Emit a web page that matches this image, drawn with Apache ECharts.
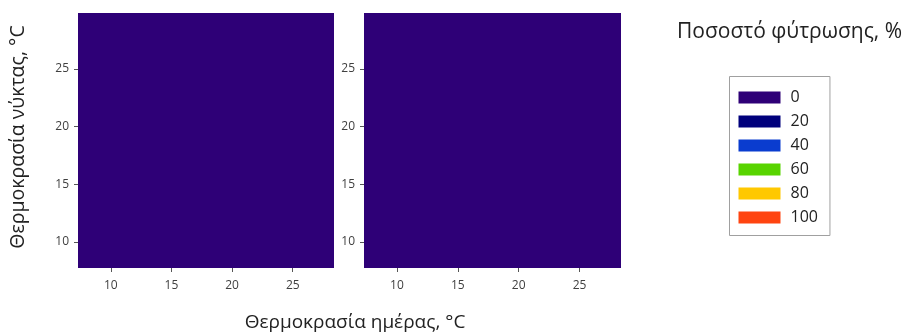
<!DOCTYPE html>
<html>
<head>
<meta charset="utf-8">
<script src="https://cdn.jsdelivr.net/npm/echarts@6/dist/echarts.min.js"></script>
<style>
html,body{margin:0;padding:0;background:#fff;}
#c{width:907px;height:334px;}
</style>
</head>
<body>
<div id="c"></div>
<script>
// ---- data ----
const dayTemps = [8, 10, 12, 14, 16, 18, 20, 22, 24, 26, 28];          // cell centres, °C (2° wide)
const nightTemps = [8, 10, 12, 14, 16, 18, 20, 22, 24, 26, 28, 30];    // cell centres, °C (2° wide)
const cellSize = 2;
const xTicks = [10, 15, 20, 25];
const yTicks = [10, 15, 20, 25];
const legendLevels = [0, 20, 40, 60, 80, 100];
const legendLabels = ['0', '20', '40', '60', '80', '100'];
// germination % per (night row, day column)
const germA = [
  [0,0,0,0,0,0,0,0,0,0,0],
  [0,0,0,0,0,0,0,0,0,0,0],
  [0,0,0,0,0,0,0,0,0,0,0],
  [0,0,0,0,0,0,0,0,0,0,0],
  [0,0,0,0,0,0,0,0,0,0,0],
  [0,0,0,0,0,0,0,0,0,0,0],
  [0,0,0,0,0,0,0,0,0,0,0],
  [0,0,0,0,0,0,0,0,0,0,0],
  [0,0,0,0,0,0,0,0,0,0,0],
  [0,0,0,0,0,0,0,0,0,0,0],
  [0,0,0,0,0,0,0,0,0,0,0],
  [0,0,0,0,0,0,0,0,0,0,0]
];
const germB = [
  [0,0,0,0,0,0,0,0,0,0,0],
  [0,0,0,0,0,0,0,0,0,0,0],
  [0,0,0,0,0,0,0,0,0,0,0],
  [0,0,0,0,0,0,0,0,0,0,0],
  [0,0,0,0,0,0,0,0,0,0,0],
  [0,0,0,0,0,0,0,0,0,0,0],
  [0,0,0,0,0,0,0,0,0,0,0],
  [0,0,0,0,0,0,0,0,0,0,0],
  [0,0,0,0,0,0,0,0,0,0,0],
  [0,0,0,0,0,0,0,0,0,0,0],
  [0,0,0,0,0,0,0,0,0,0,0],
  [0,0,0,0,0,0,0,0,0,0,0]
];
const panelLabels = ['A', 'B'];
const titleText = 'Ποσοστό φύτρωσης, %';
const xName = 'Θερμοκρασία ημέρας, °C';
const yName = 'Θερμοκρασία νύκτας, °C';

// ---- styles ----
const levelColors = ['#2e0077', '#00007c', '#0a3ccf', '#58d400', '#ffc800', '#ff4410'];
const FONT = 'Open Sans';

function toCells(mat) {
  const out = [];
  nightTemps.forEach((ny, r) => {
    dayTemps.forEach((dx, c) => { out.push([dx, ny, mat[r][c]]); });
  });
  return out;
}

function renderCell(params, api) {
  const x = api.value(0), y = api.value(1), h = cellSize / 2;
  const p0 = api.coord([x - h, y + h]);
  const p1 = api.coord([x + h, y - h]);
  const cs = params.coordSys;
  const rect = echarts.graphic.clipRectByRect({
    x: p0[0], y: p0[1], width: p1[0] - p0[0], height: p1[1] - p0[1]
  }, { x: cs.x, y: cs.y, width: cs.width, height: cs.height });
  if (!rect) return null;
  // snap to whole pixels so neighbouring cells meet without seams
  const x0 = Math.round(rect.x), y0 = Math.round(rect.y);
  const x1 = Math.round(rect.x + rect.width), y1 = Math.round(rect.y + rect.height);
  return {
    type: 'rect',
    shape: { x: x0, y: y0, width: x1 - x0, height: y1 - y0 },
    style: { fill: api.visual('color') }
  };
}

const grids = [
  { left: 78, top: 13, width: 256, height: 255 },
  { left: 364, top: 13, width: 257, height: 255 }
];

function xAxisFor(i) {
  return {
    type: 'value', gridIndex: i, min: 7.3, max: 28.4,
    interval: 5,
    axisLine: { show: false },
    axisTick: { show: true, length: 4, lineStyle: { color: '#555' },
      customValues: xTicks },
    axisLabel: { color: '#404040', fontSize: 12, fontFamily: FONT, margin: 12,
      customValues: xTicks },
    splitLine: { show: false }
  };
}
function yAxisFor(i) {
  return {
    type: 'value', gridIndex: i, min: 7.75, max: 29.85,
    axisLine: { show: false },
    axisTick: { show: true, length: 4, lineStyle: { color: '#555' },
      customValues: yTicks },
    axisLabel: { color: '#404040', fontSize: 12, fontFamily: FONT, margin: 9,
      customValues: yTicks },
    splitLine: { show: false }
  };
}

const chart = echarts.init(document.getElementById('c'), null, { renderer: 'canvas' });
chart.setOption({
  backgroundColor: '#fff',
  animation: false,
  grid: grids,
  xAxis: [xAxisFor(0), xAxisFor(1)],
  yAxis: [yAxisFor(0), yAxisFor(1)],
  visualMap: {
    type: 'piecewise',
    dimension: 2,
    seriesIndex: [0, 1],
    orient: 'vertical',
    inverse: true,
    align: 'left',
    left: 729, top: 76,
    padding: [13, 12, 10, 9],
    borderColor: '#a0a0a0', borderWidth: 1,
    itemWidth: 42, itemHeight: 12, itemGap: 8, itemSymbol: 'rect',
    textGap: 10,
    selectedMode: false,
    textStyle: { color: '#222', fontSize: 16, fontFamily: FONT },
    pieces: legendLevels.map((v, i) => ({ value: v, label: legendLabels[i], color: levelColors[i] }))
  },
  title: [
    { text: titleText, left: 672, top: 17,
      textStyle: { fontFamily: FONT, fontSize: 21, fontWeight: 'normal', color: '#222' } }
  ],
  graphic: [
    { type: 'text', x: 355, y: 323,
      style: { text: xName, font: '19px "Open Sans"', fill: '#222', align: 'center', verticalAlign: 'middle' } },
    { type: 'text', x: 18, y: 137, rotation: Math.PI / 2,
      style: { text: yName, font: '19.5px "Open Sans"', fill: '#222', align: 'center', verticalAlign: 'middle' } },
    { type: 'text', x: 303, y: 45,
      style: { text: panelLabels[0], font: 'bold 22px "Open Sans"', fill: '#fff', align: 'center', verticalAlign: 'middle' } },
    { type: 'text', x: 592, y: 52,
      style: { text: panelLabels[1], font: 'bold 22px "Open Sans"', fill: '#fff', align: 'center', verticalAlign: 'middle' } }
  ],
  series: [
    { type: 'custom', xAxisIndex: 0, yAxisIndex: 0, renderItem: renderCell,
      encode: { x: 0, y: 1 }, data: toCells(germA), clip: true, silent: true },
    { type: 'custom', xAxisIndex: 1, yAxisIndex: 1, renderItem: renderCell,
      encode: { x: 0, y: 1 }, data: toCells(germB), clip: true, silent: true }
  ]
});
</script>
</body>
</html>
